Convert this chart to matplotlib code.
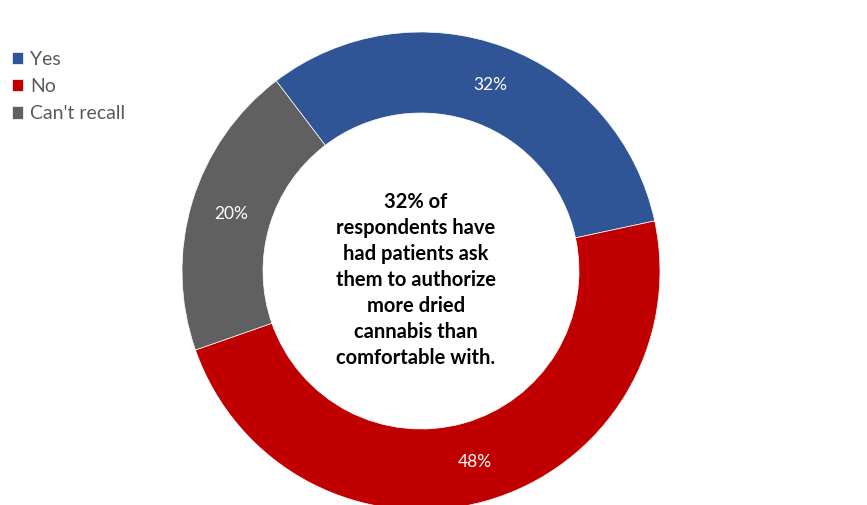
import matplotlib.pyplot as plt

# ================= DATA =================
labels = ["Yes", "No", "Can't recall"]
values = [32, 48, 20]
colors = ["#2F5597", "#C00000", "#606060"]
center_text = ("32% of\nrespondents have\nhad patients ask\nthem to authorize\n"
               "more dried\ncannabis than\ncomfortable with.")

plt.rcParams["font.family"] = ["Lato", "DejaVu Sans"]

# ================= FIGURE =================
fig = plt.figure(figsize=(8.67, 5.05), dpi=100)
ax = fig.add_axes([0, 0, 1, 1])

R = 239
ring = 81
wedges, texts, autotexts = ax.pie(
    values, colors=colors, center=(421, 234), radius=R,
    startangle=127.3, counterclock=False,
    wedgeprops=dict(width=ring, edgecolor="white", linewidth=0.5),
    autopct="%d%%", pctdistance=(R - ring / 2) / R,
    textprops=dict(color="white", fontsize=12.5),
)

# pie() resets the limits, so set them afterwards (pixel coords)
ax.set_xlim(0, 867)
ax.set_ylim(0, 505)
ax.set_aspect("equal")
ax.axis("off")

ax.text(416, 225, center_text, ha="center", va="center",
        fontsize=14.5, fontweight="bold", color="black", linespacing=1.38)

ax.legend(wedges, labels, loc="upper left", bbox_to_anchor=(0.0, 0.922),
          frameon=False, fontsize=14, labelcolor="#595959",
          handlelength=0.6, handleheight=0.6, handletextpad=0.35,
          labelspacing=0.52, borderaxespad=0.2)

fig.savefig("out.png", dpi=100)
